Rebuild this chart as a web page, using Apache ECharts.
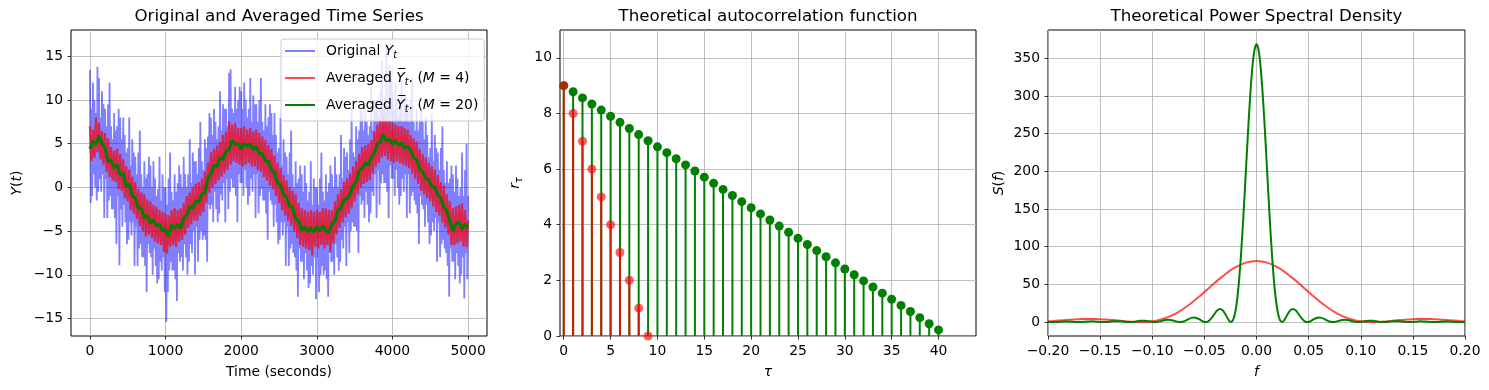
<!DOCTYPE html>
<html><head><meta charset="utf-8">
<script src="https://cdn.jsdelivr.net/npm/echarts@6/dist/echarts.min.js"></script>
<style>html,body{margin:0;padding:0;background:#fff}#c{width:1489px;height:390px}</style>
</head><body><div id="c"></div>
<script>
// ---------- Panel 1: time series ----------
const tsEnd = 5000;
const blueY = [
13.4,-1.8,9.0,-1.0,12.0,1.5,10.0,0.0,8.5,-1.5,
13.8,-0.5,12.5,1.0,8.0,-0.5,11.0,1.5,9.5,-3.5,
9.0,1.0,7.0,-3.5,9.5,-1.5,12.0,-1.0,7.0,-2.5,
5.5,-2.5,8.5,-3.5,6.5,-6.5,7.0,-1.0,9.0,-8.9,
8.0,-2.5,5.5,-4.5,8.0,-2.0,6.0,-4.0,4.0,-6.5,
4.5,-6.0,8.0,-4.0,2.5,-5.5,5.5,-4.0,4.0,-9.0,
3.5,-4.5,1.5,-9.0,4.0,-7.0,6.5,-6.5,1.5,-8.0,
0.0,-8.0,3.0,-9.0,1.0,-12.0,1.5,-6.5,3.5,-7.5,
2.5,-8.0,0.0,-10.0,3.0,-7.0,1.0,-9.0,-1.0,-11.0,
-0.2,-10.5,3.5,-8.5,-1.5,-9.5,1.5,-8.0,0.0,-12.0,
0.0,-15.4,-2.0,-12.0,1.0,-9.5,4.0,-8.5,-0.5,-9.5,
-1.5,-9.5,1.5,-10.5,-0.5,-13.0,0.5,-7.5,2.5,-8.5,
1.5,-8.0,0.0,-9.5,3.5,-6.5,1.5,-8.0,0.0,-10.0,
1.5,-8.5,5.5,-6.5,0.5,-7.5,4.0,-5.0,3.0,-10.0,
3.0,-4.5,1.5,-8.5,4.5,-6.0,7.5,-5.0,3.0,-6.0,
2.0,-5.5,5.5,-6.0,4.5,-8.5,5.8,-2.0,8.5,-2.5,
8.0,-2.0,6.0,-4.0,9.0,-0.5,7.5,-2.5,5.5,-4.0,
7.0,-3.0,11.0,-0.8,6.5,-1.5,9.5,0.5,9.0,-4.0,
9.0,1.0,7.0,-2.5,13.1,-0.5,13.5,1.0,9.0,0.0,
8.5,0.0,11.5,-1.0,9.0,-4.0,10.0,1.5,11.5,0.5,
11.0,0.5,9.0,-1.0,12.0,2.0,10.0,0.0,8.0,-2.0,
9.0,-1.0,12.5,1.0,7.5,-0.5,10.5,1.5,9.5,-3.5,
9.5,1.5,7.5,-3.0,10.0,-1.0,12.5,-0.2,7.5,-1.5,
6.5,-1.5,9.5,-3.0,7.0,-6.0,8.0,-0.5,9.5,-1.5,
8.5,-2.0,6.0,-4.5,8.5,-2.0,6.0,-4.0,4.0,-6.5,
4.5,-6.0,8.0,-4.0,2.5,-5.5,5.5,-4.0,4.0,-9.0,
3.5,-4.5,1.5,-9.0,4.0,-7.0,6.5,-6.5,1.5,-7.5,
0.0,-8.0,3.0,-9.5,0.5,-12.5,1.0,-7.0,2.5,-8.5,
1.5,-8.5,-0.5,-10.5,2.5,-7.5,0.5,-9.5,-1.5,-11.5,
-0.5,-11.0,3.0,-9.0,-2.0,-10.0,1.0,-8.0,0.0,-12.8,
0.0,-8.0,-2.0,-12.0,1.0,-10.0,4.0,-9.0,-0.5,-10.0,
-1.5,-9.5,1.5,-10.5,-0.5,-12.5,0.5,-7.5,2.5,-8.5,
1.5,-8.5,0.0,-10.0,3.5,-6.5,1.5,-8.0,0.0,-9.5,
1.5,-8.5,6.0,-6.0,1.0,-7.0,4.5,-4.5,3.5,-9.0,
4.0,-4.0,2.0,-7.5,5.5,-5.0,9.0,-4.0,4.0,-4.5,
3.5,-4.5,7.0,-5.0,5.5,-7.5,6.5,-1.0,9.0,-2.0,
8.5,-1.5,6.5,-3.5,9.5,-0.5,7.5,-2.0,6.0,-4.0,
7.0,-3.0,11.5,-0.5,6.5,-1.0,10.0,1.5,9.5,-3.5,
10.0,2.0,8.0,-2.0,11.0,0.5,14.5,1.5,9.5,0.5,
9.0,0.5,16.4,-0.5,9.5,-3.5,14.0,2.5,12.5,1.0,
11.0,1.0,9.0,-1.0,12.0,2.0,10.0,0.0,8.0,-2.0,
9.0,-1.0,12.5,1.0,7.5,-0.5,10.5,1.5,9.5,-3.5,
9.5,1.5,7.5,-3.0,10.0,-1.0,12.5,-0.5,7.5,-1.5,
6.5,-2.0,9.0,-3.0,6.5,-6.5,7.5,-1.0,9.0,-2.0,
7.5,-2.5,5.5,-4.5,8.0,-2.0,6.0,-4.0,3.5,-6.5,
4.5,-5.5,8.5,-4.0,3.0,-5.0,6.0,-3.5,4.5,-8.5,
4.0,-4.0,2.0,-8.0,4.5,-6.5,7.0,-6.0,2.0,-7.0,
0.5,-7.5,3.0,-9.0,0.5,-12.5,1.0,-7.0,2.5,-8.5,
1.5,-8.5,-0.5,-10.5,2.5,-7.5,1.0,-9.0,-1.0,-11.0,
0.0,-10.0,4.0,-8.0,-1.0,-12.7,2.0,-7.5,5.0,-10.5,
-1.0];
const redY = [
7.0,3.0,6.6,3.4,8.0, 4.0,7.4,3.2,6.4,2.6, 6.2,1.8,5.6,1.2,4.6, 0.8,4.2,0.6,4.4,-0.2, 3.8,-0.4,3.2,-1.2,2.4,
-1.6,2.0,-2.6,1.2,-3.0, 0.6,-3.6,-0.2,-4.4,-0.6, -5.0,-0.8,-5.6,-1.4,-5.4, -1.6,-5.8,-2.0,-6.2,-2.2, -6.4,-2.6,-6.6,-2.8,-7.4,
-3.0,-7.6,-3.2,-6.8,-2.6, -6.6,-2.4,-6.8,-2.6,-6.2, -2.4,-6.0,-1.8,-5.4,-1.0, -4.6,-0.6,-4.2,0.0,-3.8, 0.4,-3.8,0.6,-3.2,1.0,
-2.8,1.8,-1.8,2.8,-0.6, 4.0,0.0,4.4,0.4,4.8, 0.8,5.2,1.2,6.0,1.6, 6.4,2.0,7.6,2.6,7.2, 3.0,7.4,2.8,6.8,2.6,
6.8,2.4,7.0,2.6,6.6, 2.8,6.8,2.4,6.4,2.4, 6.6,2.0,6.2,1.8,5.8, 1.2,5.4,0.8,4.8,0.2, 4.4,-0.2,3.6,-1.0,2.8,
-1.8,2.2,-2.6,1.4,-3.2, 0.8,-3.8,0.0,-4.4,-0.4, -5.0,-0.8,-5.8,-1.8,-6.6, -2.4,-6.8,-2.6,-7.0,-2.8, -7.2,-2.6,-7.8,-2.8,-6.8,
-2.6,-7.0,-2.8,-6.6,-2.4, -7.0,-2.4,-6.6,-2.6,-7.4, -2.6,-6.4,-1.6,-5.4,-0.8, -4.6,-0.2,-4.0,0.6,-3.4, 1.0,-3.0,1.6,-2.4,2.4,
-1.6,3.0,-0.8,3.8,0.0, 4.6,0.4,4.8,0.6,5.0, 0.8,5.4,1.6,6.4,2.4, 7.2,2.8,7.6,3.4,8.4, 3.6,7.8,3.2,7.6,3.0,
7.4,2.8,7.2,3.0,7.0, 2.8,7.0,2.6,6.8,2.4, 6.6,2.2,6.0,1.6,5.6, 1.0,5.2,0.4,4.4,-0.4, 3.8,-0.8,3.4,-1.2,2.8,
-1.6,2.4,-2.2,2.0,-2.8, 1.4,-3.2,0.6,-4.0,0.2, -4.6,-0.8,-5.4,-1.6,-6.6, -2.4,-6.6,-2.2,-6.4,-2.0, -6.2,-1.8,-6.8,-2.6,-6.8,
-3.8];
const greenY = [
4.4,5.3,4.9,5.9,5.0, 4.5,3.0,3.1,2.2,2.6, 1.4,1.6,0.1,0.4,-1.0, -1.2,-2.4,-2.4,-3.5,-3.2, -4.1,-3.7,-4.4,-4.2,-5.0,
-4.8,-5.6,-4.3,-4.7,-4.2, -4.7,-3.5,-3.2,-2.2,-2.4, -1.5,-1.7,-0.8,-0.6,1.1, 1.5,2.5,2.4,3.4,3.2, 4.2,4.3,5.4,4.9,5.0,
4.4,5.0,4.7,5.0,4.3, 4.7,3.8,3.9,3.0,3.0, 2.0,1.7,0.5,0.3,-0.9, -1.1,-2.2,-2.3,-3.6,-3.8, -4.9,-4.5,-5.1,-4.6,-5.1,
-4.5,-5.0,-4.4,-4.9,-5.2, -4.2,-3.9,-2.6,-2.4,-1.4, -1.3,-0.7,0.2,0.6,1.9, 2.2,2.8,2.5,3.5,3.9, 5.0,5.2,6.0,5.3,5.5,
4.9,5.4,4.8,5.1,4.5, 4.7,4.2,3.4,3.2,2.1, 1.8,1.0,0.9,0.1,0.0, -0.9,-1.2,-2.3,-2.7,-3.9, -4.9,-4.2,-4.0,-4.8,-4.2,
-4.6];
const tsXTicks = [0,1000,2000,3000,4000,5000];
const tsYTicks = [-15,-10,-5,0,5,10,15];

// ---------- Panel 2: autocorrelation ----------
const tau = [0,1,2,3,4,5,6,7,8,9,10,11,12,13,14,15,16,17,18,19,20,21,22,23,24,25,26,27,28,29,30,31,32,33,34,35,36,37,38,39,40];
const acfM20 = [9.00,8.78,8.56,8.34,8.12,7.90,7.68,7.46,7.24,7.02,6.80,6.59,6.37,6.15,5.93,5.71,5.49,5.27,5.05,4.83,4.61,
4.39,4.17,3.95,3.73,3.51,3.29,3.07,2.85,2.63,2.41,2.20,1.98,1.76,1.54,1.32,1.10,0.88,0.66,0.44,0.22];
const acfM4 = [9,8,7,6,5,4,3,2,1,0];
const acfXTicks = [0,5,10,15,20,25,30,35,40];
const acfYTicks = [0,2,4,6,8,10];

// ---------- Panel 3: power spectral density ----------
const fMin = -0.2, fMax = 0.2;
const psdM4 = [
1.0,1.46,1.98,2.5,3.01,3.46,3.83,4.06,4.16,4.09,3.85,3.46,2.93,2.31,1.64,1.0,0.46,0.1,0.01,0.28,
1.0,2.24,4.06,6.5,9.6,13.34,17.7,22.6,28.0,33.8,39.9,46.0,52.1,58.0,63.5,68.5,72.8,76.3,78.89,80.47,
81,
80.47,78.89,76.3,72.8,68.5,63.5,58.0,52.1,46.0,39.9,33.8,28.0,22.6,17.7,13.34,9.6,6.5,4.06,2.24,1.0,
0.28,0.01,0.1,0.46,1.0,1.64,2.31,2.93,3.46,3.85,4.09,4.16,4.06,3.83,3.46,3.01,2.5,1.98,1.46,1.0];
const psdM20 = [
0.22,0.06,0.0,0.07,0.26, 0.49,0.68,0.74,0.66,0.46, 0.22,0.04,0.01,0.14,0.41, 0.7,0.91,0.96,0.81,0.52,
0.22,0.02,0.03,0.26,0.64, 1.03,1.28,1.28,1.03,0.62, 0.22,0.01,0.1,0.5,1.07, 1.61,1.91,1.84,1.4,0.77,
0.22,0.0,0.27,0.98,1.93, 2.76,3.15,2.91,2.11,1.06, 0.22,0.03,0.73,2.2,4.03, 5.55,6.15,5.52,3.83,1.73,
0.22,0.27,2.42,6.48,11.4, 15.7,17.5,15.8,10.8,4.48, 0.22,2.56,16.0,43.7,86.5, 142.2,205.2,267.6,320.8,356.5,
369,
356.5,320.8,267.6,205.2,142.2, 86.5,43.7,16.0,2.56,0.22, 4.48,10.8,15.8,17.5,15.7, 11.4,6.48,2.42,0.27,0.22,
1.73,3.83,5.52,6.15,5.55, 4.03,2.2,0.73,0.03,0.22, 1.06,2.11,2.91,3.15,2.76, 1.93,0.98,0.27,0.0,0.22,
0.77,1.4,1.84,1.91,1.61, 1.07,0.5,0.1,0.01,0.22, 0.62,1.03,1.28,1.28,1.03, 0.64,0.26,0.03,0.02,0.22,
0.52,0.81,0.96,0.91,0.7, 0.41,0.14,0.01,0.04,0.22, 0.46,0.66,0.74,0.68,0.49, 0.26,0.07,0.0,0.06,0.22];
const psdXTicks = [-0.2,-0.15,-0.1,-0.05,0,0.05,0.1,0.15,0.2];
const psdYTicks = [0,50,100,150,200,250,300,350];

// ---------- build ----------
const FONT = 'DejaVu Sans';
const FS = 13.9;
const minus = s => String(s).replace('-', '\u2212');
const evenXY = (vals, a, b) => vals.map((v, i) => [a + (b - a) * i / (vals.length - 1), v]);

const rich = {
  n: {fontFamily: FONT, fontSize: FS, color: '#000', lineHeight: 18},
  i: {fontFamily: FONT, fontSize: FS, fontStyle: 'italic', color: '#000', lineHeight: 18},
  s: {fontFamily: FONT, fontSize: 9.7, fontStyle: 'italic', color: '#000', lineHeight: 10, verticalAlign: 'bottom'}
};

function valAxis(gi, min, max, ticks, fmt, name, gap) {
  return {
    type: 'value', gridIndex: gi, min: min, max: max,
    axisLine: {show: false, onZero: false},
    axisTick: {show: true, inside: false, length: 3.5, lineStyle: {color: '#000', width: 0.8}, customValues: ticks},
    axisLabel: {show: true, customValues: ticks, formatter: fmt, color: '#000', fontSize: FS, fontFamily: FONT, margin: 8},
    splitLine: {show: true, lineStyle: {color: '#b0b0b0', width: 0.8}},
    name: name, nameLocation: 'middle', nameGap: gap,
    nameTextStyle: {fontFamily: FONT, fontSize: FS, color: '#000', rich: rich}
  };
}

const grids = [
  {left: 71, top: 30, width: 416, height: 306},
  {left: 560, top: 30, width: 416, height: 306},
  {left: 1048, top: 30, width: 417, height: 306}
].map(g => Object.assign(g, {show: true, borderColor: '#000', borderWidth: 1, backgroundColor: 'transparent', containLabel: false}));

const stem = (xs, ys, color) => ({
  type: 'custom', xAxisIndex: 1, yAxisIndex: 1,
  data: ys.map((v, i) => [xs[i], v]),
  encode: {x: 0, y: 1},
  renderItem: (params, api) => {
    const p0 = api.coord([api.value(0), 0]);
    const p1 = api.coord([api.value(0), api.value(1)]);
    return {type: 'line', shape: {x1: p0[0], y1: p0[1], x2: p1[0], y2: p1[1]}, style: {stroke: color, lineWidth: 2}};
  }
});

const legendLabels = {
  orig: '{n|Original }{i|Y}{s|t}',
  m4: '{n|Averaged }{i|Y\u0305}{s|t}{n|. (}{i|M}{n| = 4)}',
  m20: '{n|Averaged }{i|Y\u0305}{s|t}{n|. (}{i|M}{n| = 20)}'
};

const titles = [
  ['Original and Averaged Time Series', 279],
  ['Theoretical autocorrelation function', 768],
  ['Theoretical Power Spectral Density', 1256.5]
];

const option = {
  animation: false,
  backgroundColor: '#fff',
  grid: grids,
  graphic: titles.map(t => ({type: 'text', x: t[1], y: 16.5,
    style: {text: t[0], fontFamily: FONT, fontSize: 16.7, fill: '#000', align: 'center', verticalAlign: 'middle'}})),
  xAxis: [
    valAxis(0, -250, 5250, tsXTicks, v => minus(v), 'Time (seconds)', 29),
    valAxis(1, -0.4, 44, acfXTicks, v => minus(v), '{i|\u03c4}', 27),
    valAxis(2, -0.2, 0.2, psdXTicks, v => minus(Number(v).toFixed(2)), '{i|f}', 27)
  ],
  yAxis: [
    valAxis(0, -17, 18, tsYTicks, v => minus(v), '{i|Y}{n|(}{i|t}{n|)}', 45),
    valAxis(1, 0, 11, acfYTicks, v => minus(v), '{i|r}{s|\u03c4}', 36),
    valAxis(2, -18.45, 387.45, psdYTicks, v => minus(v), '{i|S}{n|(}{i|f}{n|)}', 40)
  ],
  legend: {
    orient: 'vertical', left: 281, top: 39,
    itemWidth: 30, itemHeight: 2, itemGap: 11,
    padding: [5, 6, 7, 4],
    backgroundColor: 'rgba(255,255,255,0.8)', borderColor: '#cccccc', borderWidth: 1, borderRadius: 3,
    selectedMode: false,
    data: [
      {name: 'orig', icon: 'rect', itemStyle: {color: 'rgba(0,0,255,0.5)'}},
      {name: 'm4', icon: 'rect', itemStyle: {color: 'rgba(255,0,0,0.7)'}},
      {name: 'm20', icon: 'rect', itemStyle: {color: '#008000'}}
    ],
    formatter: n => legendLabels[n],
    textStyle: {fontFamily: FONT, fontSize: FS, color: '#000', padding: [0, 0, 0, 6], rich: rich}
  },
  series: [
    {name: 'orig', type: 'line', xAxisIndex: 0, yAxisIndex: 0, data: evenXY(blueY, 0, tsEnd),
      showSymbol: false, symbol: 'none', lineStyle: {color: '#0000ff', opacity: 0.5, width: 1.8}, itemStyle: {color: 'rgba(0,0,255,0.5)'}},
    {name: 'm4', type: 'line', xAxisIndex: 0, yAxisIndex: 0, data: evenXY(redY, 0, tsEnd),
      showSymbol: false, symbol: 'none', lineStyle: {color: '#ff0000', opacity: 0.7, width: 2.2}, itemStyle: {color: 'rgba(255,0,0,0.7)'}},
    {name: 'm20', type: 'line', xAxisIndex: 0, yAxisIndex: 0, data: evenXY(greenY, 0, tsEnd),
      showSymbol: false, symbol: 'none', lineStyle: {color: '#008000', width: 3}, itemStyle: {color: '#008000'}},

    stem(tau, acfM20, '#008000'),
    {type: 'scatter', xAxisIndex: 1, yAxisIndex: 1, data: acfM20.map((v, i) => [tau[i], v]),
      symbolSize: 9, itemStyle: {color: '#008000', opacity: 1}},
    stem(tau, acfM4, 'rgba(255,0,0,0.8)'),
    {type: 'scatter', xAxisIndex: 1, yAxisIndex: 1, data: acfM4.map((v, i) => [tau[i], v]),
      symbolSize: 9, itemStyle: {color: 'rgba(255,0,0,0.8)'}},

    {type: 'line', xAxisIndex: 2, yAxisIndex: 2, data: evenXY(psdM4, fMin, fMax), smooth: 0.3,
      showSymbol: false, symbol: 'none', lineStyle: {color: '#ff0000', opacity: 0.7, width: 2}},
    {type: 'line', xAxisIndex: 2, yAxisIndex: 2, data: evenXY(psdM20, fMin, fMax), smooth: 0.3,
      showSymbol: false, symbol: 'none', lineStyle: {color: '#008000', width: 2}}
  ]
};
const chart = echarts.init(document.getElementById('c'), null, {renderer: 'canvas'});
chart.setOption(option);
</script></body></html>
